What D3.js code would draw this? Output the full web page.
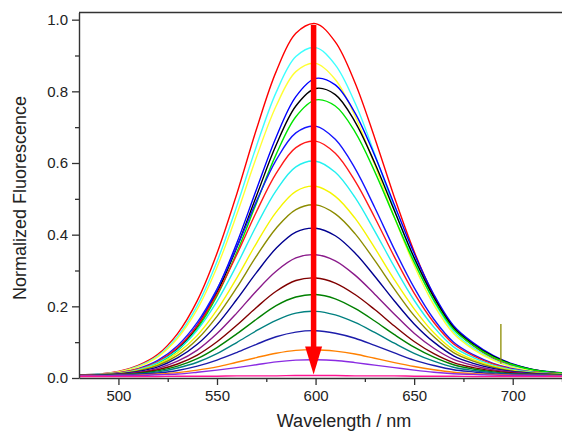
<!DOCTYPE html>
<html>
<head>
<meta charset="utf-8">
<script src="https://cdn.jsdelivr.net/npm/d3@7"></script>
<style>
  body { margin: 0; background: #fff; }
  svg { display: block; font-family: "Liberation Sans", Arial, sans-serif; }
</style>
</head>
<body>
<svg id="chart" width="562" height="432"></svg>
<script>
// wavelengths (nm) the spectra were read at
const wavelengths = [480, 490, 500, 510, 520, 530, 540, 550, 560, 570, 580, 590, 600,
  610, 620, 630, 640, 650, 660, 670, 680, 690, 700, 710, 720, 730];

// normalized fluorescence, one array per spectrum (top to bottom)
const red1 = [0.008, 0.011, 0.018, 0.035, 0.066, 0.124, 0.216, 0.348, 0.513, 0.694, 0.855, 0.962, 0.989, 0.938, 0.824, 0.670, 0.504, 0.353, 0.230, 0.139, 0.090, 0.055, 0.034, 0.022, 0.016, 0.012];
const cyan1 = [0.008, 0.011, 0.017, 0.033, 0.062, 0.116, 0.202, 0.325, 0.479, 0.647, 0.797, 0.897, 0.922, 0.874, 0.768, 0.625, 0.471, 0.329, 0.214, 0.130, 0.084, 0.052, 0.032, 0.021, 0.015, 0.012];
const yellow1 = [0.008, 0.010, 0.017, 0.031, 0.059, 0.111, 0.192, 0.309, 0.456, 0.616, 0.759, 0.855, 0.878, 0.833, 0.731, 0.595, 0.448, 0.314, 0.204, 0.124, 0.080, 0.050, 0.030, 0.020, 0.015, 0.012];
const blue1 = [0.007, 0.009, 0.013, 0.023, 0.044, 0.083, 0.148, 0.246, 0.376, 0.526, 0.672, 0.785, 0.836, 0.818, 0.740, 0.621, 0.483, 0.348, 0.233, 0.146, 0.098, 0.063, 0.039, 0.024, 0.017, 0.013];
const black1 = [0.007, 0.009, 0.013, 0.022, 0.043, 0.080, 0.143, 0.238, 0.364, 0.508, 0.650, 0.759, 0.808, 0.791, 0.715, 0.600, 0.467, 0.336, 0.225, 0.141, 0.094, 0.061, 0.038, 0.024, 0.016, 0.012];
const green1 = [0.007, 0.008, 0.012, 0.022, 0.041, 0.077, 0.138, 0.229, 0.350, 0.488, 0.624, 0.729, 0.776, 0.759, 0.687, 0.576, 0.448, 0.323, 0.217, 0.136, 0.091, 0.058, 0.037, 0.023, 0.016, 0.012];
const blue2 = [0.007, 0.010, 0.014, 0.026, 0.049, 0.090, 0.155, 0.248, 0.365, 0.493, 0.608, 0.684, 0.703, 0.666, 0.585, 0.476, 0.359, 0.252, 0.164, 0.100, 0.065, 0.041, 0.026, 0.017, 0.013, 0.010];
const red2 = [0.007, 0.009, 0.014, 0.025, 0.046, 0.085, 0.146, 0.234, 0.344, 0.464, 0.571, 0.643, 0.661, 0.627, 0.550, 0.448, 0.338, 0.237, 0.155, 0.095, 0.062, 0.039, 0.024, 0.017, 0.013, 0.010];
const cyan2 = [0.007, 0.009, 0.013, 0.023, 0.043, 0.078, 0.134, 0.214, 0.315, 0.425, 0.523, 0.589, 0.605, 0.574, 0.504, 0.410, 0.310, 0.217, 0.142, 0.087, 0.057, 0.036, 0.023, 0.016, 0.012, 0.010];
const yellow2 = [0.007, 0.009, 0.012, 0.021, 0.038, 0.070, 0.119, 0.190, 0.279, 0.376, 0.463, 0.521, 0.535, 0.507, 0.446, 0.363, 0.274, 0.193, 0.126, 0.078, 0.051, 0.033, 0.021, 0.015, 0.011, 0.009];
const olive = [0.007, 0.008, 0.012, 0.020, 0.035, 0.063, 0.108, 0.172, 0.252, 0.340, 0.418, 0.470, 0.483, 0.458, 0.403, 0.328, 0.248, 0.174, 0.115, 0.071, 0.047, 0.030, 0.019, 0.014, 0.011, 0.009];
const navy1 = [0.007, 0.008, 0.011, 0.018, 0.031, 0.056, 0.094, 0.149, 0.219, 0.294, 0.362, 0.407, 0.418, 0.397, 0.349, 0.284, 0.215, 0.151, 0.100, 0.062, 0.041, 0.027, 0.018, 0.013, 0.010, 0.008];
const purple = [0.007, 0.008, 0.010, 0.016, 0.027, 0.047, 0.078, 0.124, 0.181, 0.243, 0.298, 0.335, 0.344, 0.327, 0.287, 0.234, 0.178, 0.125, 0.083, 0.052, 0.035, 0.023, 0.016, 0.011, 0.009, 0.008];
const maroon = [0.007, 0.007, 0.009, 0.014, 0.023, 0.039, 0.064, 0.101, 0.147, 0.197, 0.242, 0.272, 0.279, 0.265, 0.233, 0.191, 0.145, 0.102, 0.068, 0.043, 0.029, 0.020, 0.014, 0.010, 0.009, 0.007];
const green2 = [0.006, 0.007, 0.009, 0.013, 0.020, 0.033, 0.054, 0.085, 0.123, 0.164, 0.202, 0.226, 0.233, 0.221, 0.194, 0.159, 0.121, 0.086, 0.058, 0.037, 0.025, 0.017, 0.012, 0.010, 0.008, 0.007];
const teal = [0.006, 0.007, 0.008, 0.011, 0.017, 0.028, 0.044, 0.068, 0.099, 0.132, 0.161, 0.181, 0.186, 0.176, 0.155, 0.127, 0.097, 0.069, 0.047, 0.030, 0.021, 0.015, 0.011, 0.009, 0.008, 0.007];
const navy2 = [0.006, 0.007, 0.008, 0.010, 0.014, 0.021, 0.033, 0.050, 0.071, 0.094, 0.115, 0.128, 0.132, 0.125, 0.111, 0.091, 0.070, 0.050, 0.035, 0.023, 0.017, 0.012, 0.010, 0.008, 0.007, 0.006];
const orange = [0.006, 0.006, 0.007, 0.008, 0.011, 0.015, 0.022, 0.031, 0.044, 0.057, 0.069, 0.077, 0.079, 0.075, 0.067, 0.055, 0.043, 0.032, 0.023, 0.016, 0.012, 0.010, 0.008, 0.007, 0.007, 0.006];
const violet = [0.006, 0.006, 0.007, 0.007, 0.009, 0.011, 0.016, 0.022, 0.029, 0.037, 0.045, 0.050, 0.051, 0.049, 0.043, 0.036, 0.029, 0.022, 0.016, 0.012, 0.010, 0.008, 0.007, 0.007, 0.006, 0.006];
const magenta = [0.004, 0.004, 0.004, 0.004, 0.004, 0.005, 0.005, 0.005, 0.006, 0.006, 0.006, 0.007, 0.007, 0.007, 0.006, 0.006, 0.006, 0.005, 0.005, 0.005, 0.004, 0.004, 0.004, 0.004, 0.004, 0.004];

const spectra = [red1, cyan1, yellow1, blue1, black1, green1, blue2, red2, cyan2, yellow2,
  olive, navy1, purple, maroon, green2, teal, navy2, orange, violet, magenta];
const lineColors = ["#ff0000", "#3dffff", "#ffff33", "#0000ff", "#000000", "#00e600", "#1515ff", "#ff1a1a",
  "#22f0f0", "#f5f500", "#8c8c00", "#000090", "#8a1a8a", "#800000", "#008000", "#008080",
  "#1c1caa", "#ff8000", "#8a2be2", "#ff1493"];

const xMajor = [500, 550, 600, 650, 700];
const xMinor = [525, 575, 625, 675, 725];
const yMajor = [0, 0.2, 0.4, 0.6, 0.8, 1.0];
const yMinor = [0.1, 0.3, 0.5, 0.7, 0.9];

// the stray spike on the olive trace and the big arrow
const spikeWl = 694, spikeTop = 0.151, spikeBottom = 0.04;
const arrowWl = 599, arrowFrom = 0.985, arrowTo = 0.01;

const svg = d3.select("#chart");
const plotLeft = 79, plotRight = 562, plotTop = 12.5, plotBottom = 378;

const x = d3.scaleLinear().domain([480, 725]).range([plotLeft, plotRight]);
const y = d3.scaleLinear().domain([0, 1.02]).range([plotBottom, plotTop]);

svg.append("defs").append("clipPath").attr("id", "plot")
  .append("rect").attr("x", plotLeft).attr("y", plotTop)
  .attr("width", plotRight - plotLeft).attr("height", plotBottom - plotTop);

const line = d3.line()
  .x((d, i) => x(wavelengths[i]))
  .y(d => y(d))
  .curve(d3.curveCatmullRom.alpha(0.5));

const plot = svg.append("g").attr("clip-path", "url(#plot)");

plot.selectAll("path.spec")
  .data(spectra)
  .enter()
  .append("path")
  .attr("class", "spec")
  .attr("fill", "none")
  .attr("stroke", (d, i) => lineColors[i])
  .attr("stroke-width", 1.4)
  .attr("d", line);

plot.append("line")
  .attr("x1", x(spikeWl)).attr("x2", x(spikeWl))
  .attr("y1", y(spikeTop)).attr("y2", y(spikeBottom))
  .attr("stroke", "#8c8c00").attr("stroke-width", 1.3);

// axes
const axisColor = "#333";
function styleAxis(g) {
  g.selectAll("path.domain").attr("stroke", axisColor).attr("stroke-width", 1.4);
  g.selectAll(".tick line").attr("stroke", axisColor).attr("stroke-width", 1.3);
  g.selectAll(".tick text").attr("fill", "#222").style("font-size", "15px")
    .style("font-family", '"Liberation Sans", Arial, sans-serif');
}

svg.append("g")
  .attr("transform", `translate(0,${plotBottom})`)
  .call(d3.axisBottom(x).tickValues(xMinor).tickSize(4).tickSizeOuter(0).tickFormat(""))
  .call(g => g.select(".domain").remove())
  .call(styleAxis);
svg.append("g")
  .attr("transform", `translate(0,${plotBottom})`)
  .call(d3.axisBottom(x).tickValues(xMajor).tickSize(7).tickSizeOuter(0).tickPadding(5).tickFormat(d3.format("d")))
  .call(styleAxis);

svg.append("g")
  .attr("transform", `translate(${plotLeft},0)`)
  .call(d3.axisLeft(y).tickValues(yMinor).tickSize(4).tickSizeOuter(0).tickFormat(""))
  .call(g => g.select(".domain").remove())
  .call(styleAxis);
svg.append("g")
  .attr("transform", `translate(${plotLeft},0)`)
  .call(d3.axisLeft(y).tickValues(yMajor).tickSize(7).tickSizeOuter(0).tickPadding(4).tickFormat(d3.format(".1f")))
  .call(styleAxis);

// top frame line
svg.append("line")
  .attr("x1", plotLeft).attr("x2", plotRight)
  .attr("y1", plotTop).attr("y2", plotTop)
  .attr("stroke", axisColor).attr("stroke-width", 1.6);

// red arrow
const ax = x(arrowWl);
const headLen = 28, headHalf = 8.5;
svg.append("line")
  .attr("x1", ax).attr("x2", ax)
  .attr("y1", y(arrowFrom)).attr("y2", y(arrowTo) - headLen + 2)
  .attr("stroke", "#ff0000").attr("stroke-width", 5.5);
svg.append("path")
  .attr("d", `M${ax - headHalf},${y(arrowTo) - headLen} L${ax + headHalf},${y(arrowTo) - headLen} L${ax},${y(arrowTo)} Z`)
  .attr("fill", "#ff0000");

// titles
svg.append("text")
  .attr("transform", `translate(26,198) rotate(-90)`)
  .attr("text-anchor", "middle")
  .attr("fill", "#222")
  .style("font-size", "18px")
  .text("Normalized Fluorescence");

svg.append("text")
  .attr("x", 344).attr("y", 427)
  .attr("text-anchor", "middle")
  .attr("fill", "#222")
  .style("font-size", "18px")
  .text("Wavelength / nm");
</script>
</body>
</html>
